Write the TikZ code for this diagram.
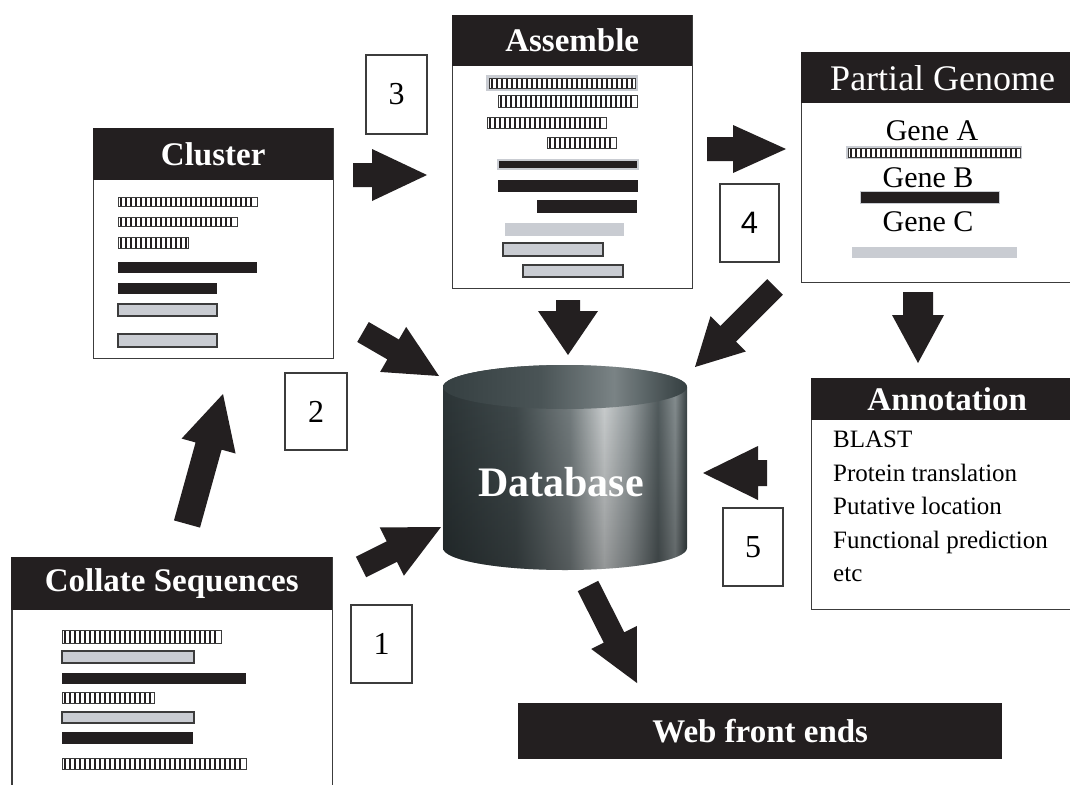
\documentclass[tikz,border=0pt]{standalone}
\usepackage{fontspec}
\setmainfont{Liberation Serif}
\newfontfamily\sansdigit{Liberation Sans}
\usetikzlibrary{calc,fadings}
\definecolor{ink}{HTML}{231F20}
\definecolor{edge}{HTML}{3C3C3C}
\definecolor{barfill}{HTML}{C9CCD2}
\definecolor{dbA}{HTML}{2E3739}
\definecolor{dbB}{HTML}{434D4F}
\definecolor{dbC}{HTML}{7A8385}
\definecolor{dbD}{HTML}{D4D8D9}
\definecolor{dbE}{HTML}{A2A9AB}
\definecolor{dbF}{HTML}{566062}
\definecolor{dbG}{HTML}{8A9294}
\definecolor{dbH}{HTML}{3A4446}
\definecolor{dtA}{HTML}{353F41}
\definecolor{dtB}{HTML}{4A5456}
\definecolor{dtC}{HTML}{7A8385}
\pgfdeclarehorizontalshading{dbbody}{100bp}{color(0bp)=(dbA); color(25bp)=(dbA); color(40bp)=(dbB); color(51bp)=(dbC); color(58bp)=(dbD); color(63bp)=(dbE); color(69bp)=(dbF); color(72.5bp)=(dbG); color(75bp)=(dbH); color(100bp)=(dbH)}
\pgfdeclarehorizontalshading{dbtop}{100bp}{color(0bp)=(dtA); color(25bp)=(dtA); color(45bp)=(dtB); color(60bp)=(dtC); color(70bp)=(dtB); color(75bp)=(dtA); color(100bp)=(dtA)}
\newcommand{\hatchbar}[4]{%
  \fill[white] (#1,#2) rectangle (#3,#4);
  \pgfmathsetmacro\hbs{#1+3}%
  \pgfmathsetmacro\hbn{#1+8}%
  \pgfmathsetmacro\hbe{#3-2}%
  \foreach \xx in {\hbs,\hbn,...,\hbe} \draw[ink, line width=1.8pt] (\xx,#2) -- (\xx,#4);
  \draw[edge, line width=1pt] (#1,#2) rectangle (#3,#4);}
\newcommand{\blackbar}[4]{\fill[ink] (#1,#2) rectangle (#3,#4);}
\newcommand{\greybar}[4]{\draw[edge, fill=barfill, line width=1.2pt] (#1,#2) rectangle (#3,#4);}
\newcommand{\blockarrow}[5]{%
  \coordinate (bah) at ($(#2)!#5!(#1)$);
  \fill[ink] ($(#1)!#3!90:(#2)$) -- ($(bah)!#3!-90:(#1)$) -- ($(bah)!#4!-90:(#1)$) -- (#2)
    -- ($(bah)!#4!90:(#1)$) -- ($(bah)!#3!90:(#1)$) -- ($(#1)!#3!-90:(#2)$) -- cycle;}
\tikzset{
  panel/.style={draw=edge, line width=1.4pt, fill=white, anchor=north west, inner sep=0pt},
  header/.style={fill=ink, text=white, anchor=north west, inner sep=0pt,
    font=\bfseries\fontsize{33}{36}\selectfont},
  numbox/.style={draw=edge, line width=1.2pt, fill=white, inner sep=0pt,
    font=\fontsize{32}{34}\selectfont},
  genetext/.style={font=\fontsize{30}{32}\selectfont, inner sep=0pt},
  annot/.style={font=\fontsize{25}{27}\selectfont, anchor=base west, inner sep=0pt}
}
\begin{document}
\begin{tikzpicture}[x=1pt,y=-1pt]
\useasboundingbox (0,0) rectangle (1070,784);
\clip (0,0) rectangle (1070,784);
\fill[white] (0,0) rectangle (1070,784);

% ---------- Cluster ----------
\node[panel, minimum width=240, minimum height=230] (cluster) at (93,128) {};
\node[header, minimum width=240, minimum height=52] (clusterh) at (93,128) {Cluster};
\hatchbar{118}{197}{257}{206}
\hatchbar{118}{217}{237}{226}
\hatchbar{118}{237}{188}{248}
\blackbar{118}{262}{257}{273}
\blackbar{118}{283}{217}{294}
\greybar{118}{304}{217}{316}
\greybar{118}{334}{217}{347}

% ---------- Assemble ----------
\node[panel, minimum width=240, minimum height=273] (assemble) at (452,15) {};
\node[header, minimum width=240, minimum height=51] (assembleh) at (452,15) {Assemble};
\fill[barfill] (486,75) rectangle (638,91);
\hatchbar{489}{78}{635}{88}
\hatchbar{498}{95}{637}{107}
\hatchbar{487}{117}{606}{128}
\hatchbar{547}{137}{616}{148}
\fill[barfill] (497,159) rectangle (639,170);
\blackbar{499}{161}{637}{168}
\blackbar{498}{180}{638}{192}
\blackbar{537}{200}{637}{213}
\fill[barfill] (505,223) rectangle (624,236);
\greybar{503}{243}{603}{256}
\greybar{523}{265}{623}{277}

% ---------- Partial Genome ----------
\node[panel, minimum width=283, minimum height=230] (partial) at (801,52) {};
\node[header, minimum width=283, minimum height=51, font=\fontsize{36}{38}\selectfont] (partialh) at (801,52) {Partial Genome};
\node[genetext] (geneA) at (932,131) {Gene A};
\fill[barfill] (846,146) rectangle (1022,159);
\hatchbar{848}{148}{1020}{157}
\node[genetext] (geneB) at (928,178) {Gene B};
\fill[barfill] (860,191) rectangle (1000,204);
\blackbar{861}{192}{999}{203}
\node[genetext] (geneC) at (928,222) {Gene C};
\fill[barfill] (852,247) rectangle (1017,258);

% ---------- Annotation ----------
\node[panel, minimum width=272, minimum height=231] (annot) at (811,378) {};
\node[header, minimum width=272, minimum height=42] (annoth) at (811,378) {Annotation};
\node[annot] (l1) at (833,447) {BLAST};
\node[annot] (l2) at (833,481) {Protein translation};
\node[annot] (l3) at (833,514) {Putative location};
\node[annot] (l4) at (833,548) {Functional prediction};
\node[annot] (l5) at (833,581) {etc};

% ---------- Collate Sequences ----------
\node[panel, minimum width=321, minimum height=245] (collate) at (11,557) {};
\draw[edge, line width=2pt] (12,557) -- (12,790);
\node[header, minimum width=321, minimum height=53] (collateh) at (11,557) {Collate Sequences};
\hatchbar{62}{630}{221}{643}
\greybar{62}{651}{194}{663}
\blackbar{62}{673}{246}{684}
\hatchbar{62}{692}{154}{703}
\greybar{62}{712}{194}{723}
\blackbar{62}{732}{193}{744}
\hatchbar{62}{758}{246}{769}

% ---------- Web front ends ----------
\node[header, minimum width=484, minimum height=56] (web) at (518,703) {Web front ends};

% ---------- Database ----------
\shade[shading=dbbody] (443,387) -- (443,548) arc[start angle=180, end angle=360, x radius=122pt, y radius=22pt]
  -- (687,387) arc[start angle=0, end angle=180, x radius=122pt, y radius=22pt] -- cycle;
\fill[black, fill opacity=0.3, path fading=north] (443,387) -- (443,548) arc[start angle=180, end angle=360, x radius=122pt, y radius=22pt]
  -- (687,387) arc[start angle=0, end angle=180, x radius=122pt, y radius=22pt] -- cycle;
\shade[shading=dbtop] (565,387) ellipse [x radius=122pt, y radius=22pt];
\node[text=white, font=\bfseries\fontsize{42}{46}\selectfont, inner sep=0pt] (db) at (561,482) {Database};

% ---------- Step numbers ----------
\node[numbox, minimum width=61, minimum height=79] (n3) at (396.5,94.5) {3};
\node[numbox, minimum width=59, minimum height=78, font=\sansdigit\fontsize{31}{33}\selectfont] (n4) at (749.5,223) {4};
\node[numbox, minimum width=62, minimum height=77] (n2) at (316,411.5) {2};
\node[numbox, minimum width=60, minimum height=78] (n5) at (753,547) {5};
\node[numbox, minimum width=61, minimum height=78] (n1) at (381.5,644) {1};

% ---------- Block arrows ----------
\coordinate (a1t) at (187,524); \coordinate (a1h) at (223,394);
\coordinate (a2t) at (363,332); \coordinate (a2h) at (439,376);
\coordinate (a3t) at (361,567); \coordinate (a3h) at (441,527);
\coordinate (a4t) at (353,175); \coordinate (a4h) at (427,175);
\coordinate (a5t) at (707,149); \coordinate (a5h) at (786,149);
\coordinate (a6t) at (568,300); \coordinate (a6h) at (568,355);
\coordinate (a7t) at (775,287); \coordinate (a7h) at (695,367);
\coordinate (a8t) at (918,292); \coordinate (a8h) at (918,363);
\coordinate (a9t) at (767,473); \coordinate (a9h) at (703,473);
\coordinate (a10t) at (588,586); \coordinate (a10h) at (637,683);
\blockarrow{a1t}{a1h}{13.5pt}{28pt}{54pt}
\blockarrow{a2t}{a2h}{11.5pt}{26pt}{53pt}
\blockarrow{a3t}{a3h}{11.5pt}{27pt}{55pt}
\blockarrow{a4t}{a4h}{12pt}{26pt}{55pt}
\blockarrow{a5t}{a5h}{12pt}{24pt}{53pt}
\blockarrow{a6t}{a6h}{12pt}{30pt}{44pt}
\blockarrow{a7t}{a7h}{11pt}{25pt}{47pt}
\blockarrow{a8t}{a8h}{15pt}{26pt}{48pt}
\blockarrow{a9t}{a9h}{13pt}{27pt}{55pt}
\blockarrow{a10t}{a10h}{11.5pt}{25.5pt}{51pt}
\end{tikzpicture}
\end{document}
